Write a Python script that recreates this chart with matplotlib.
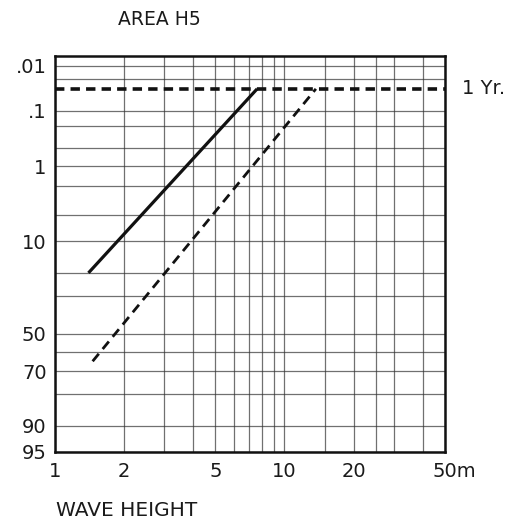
import math
import numpy as np
import matplotlib.pyplot as plt
import matplotlib.transforms as mtransforms
from matplotlib.ticker import NullFormatter

plt.rcParams['font.family'] = ['DejaVu Sans']

# wave height (m) against probability of exceedance (%)
solid_h = [1.4, 7.6]
solid_p = [20, 0.034]
dashed_h = [1.46, 13.7]
dashed_p = [65, 0.034]
one_year_p = 0.034

x_ticks = [1, 2, 5, 10, 20, 50]
x_labels = ['1', '2', '5', '10', '20', '50m']
x_grid = [2, 3, 4, 5, 6, 7, 8, 9, 10, 15, 20, 25, 30, 40]
y_ticks = [0.01, 0.1, 1, 10, 50, 70, 90, 95]
y_labels = ['.01', '.1', '1', '10', '50', '70', '90', '95']
y_grid = [0.01, 0.02, 0.1, 0.2, 0.5, 1, 2, 5, 10, 20, 30, 50, 60, 70, 80, 90]

# normal probability paper
erf = np.vectorize(math.erf, otypes=[float])

def to_prob(z):
    return 50.0 * (1.0 + erf(np.asarray(z, float) / math.sqrt(2)))

def to_z(p):
    p = np.clip(np.asarray(p, float), 1e-9, 100 - 1e-9)
    lo = np.full(p.shape, -9.0)
    hi = np.full(p.shape, 9.0)
    for _ in range(55):
        mid = (lo + hi) / 2
        below = to_prob(mid) < p
        lo = np.where(below, mid, lo)
        hi = np.where(below, hi, mid)
    return (lo + hi) / 2

fig = plt.figure(figsize=(5.18, 5.28), dpi=100)
ax = fig.add_axes([0.106, 0.144, 0.753, 0.750])
ax.set_xscale('log')
ax.set_yscale('function', functions=(to_z, to_prob))
ax.set_xlim(1, 50)
ax.set_ylim(95, 0.0058)

ax.set_xticks(x_ticks, x_labels)
ax.set_xticks(x_grid, minor=True)
ax.xaxis.set_minor_formatter(NullFormatter())
ax.set_yticks(y_ticks, y_labels)
ax.set_yticks(y_grid, minor=True)
ax.yaxis.set_minor_formatter(NullFormatter())
ax.tick_params(which='both', length=0, labelsize=14, colors='#1a1a1a')
ax.tick_params(axis='x', pad=7)
ax.tick_params(axis='y', pad=6)
lab = ax.get_xticklabels()[-1]
lab.set_horizontalalignment('left')
lab.set_transform(lab.get_transform() + mtransforms.ScaledTranslation(-0.12, 0, fig.dpi_scale_trans))

ax.grid(True, which='both', color='#333333', linewidth=0.9, alpha=0.7)
for s in ax.spines.values():
    s.set_linewidth(1.8)
    s.set_color('#111111')

ax.plot(solid_h, solid_p, color='#111111', linewidth=2.3, solid_capstyle='butt')
ax.plot(dashed_h, dashed_p, color='#111111', linewidth=2.0, dashes=(3.5, 2.2))
ax.axhline(one_year_p, color='#111111', linewidth=2.6, dashes=(2.6, 1.7))

ax.text(1.044, one_year_p, '1 Yr.', transform=ax.get_yaxis_transform(),
        fontsize=14, va='center', ha='left', color='#1a1a1a')
fig.text(0.228, 0.963, 'AREA H5', fontsize=13.5, va='center', ha='left', color='#1a1a1a')
fig.text(0.108, 0.033, 'WAVE HEIGHT', fontsize=14.5, va='center', ha='left', color='#1a1a1a')

fig.savefig('out.png', dpi=100)
